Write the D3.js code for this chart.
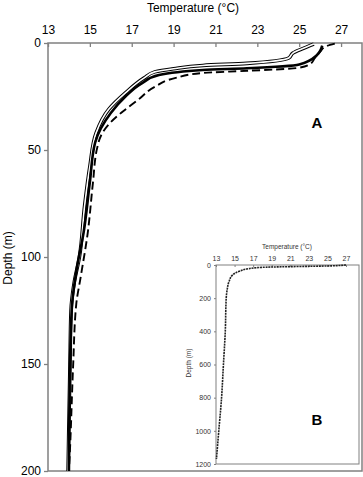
<!DOCTYPE html>
<html><head><meta charset="utf-8">
<script src="https://cdn.jsdelivr.net/npm/d3@7"></script>
<style>body{margin:0;background:#fff}svg{display:block;font-family:"Liberation Sans",Arial,sans-serif}</style>
</head><body>
<svg id="c" width="363" height="477"></svg>
<script>
// Data: [temperature °C, depth m]
const profileHollow = [[25.7,0.5],[25.2,2.5],[24.7,4.7],[24.5,7],[22.5,9.5],[20.4,10.5],[19.0,12],[18.1,13.5],[17.6,16.3],[16.7,23.3],[15.9,31],[15.3,42],[15.0,57.7],[14.75,76],[14.5,100],[14.25,112],[14.1,125],[14.05,150],[13.96,200]];
const profileThick = [[26.1,1.2],[25.85,5.6],[25.0,10],[22.5,11.8],[20.4,12.6],[18.3,15],[17.5,18.7],[16.7,25],[16.0,32.7],[15.25,46.6],[15.0,65],[14.7,88.6],[14.4,104],[14.15,122],[14.05,151],[14.0,200]];
const profileDashed = [[26.7,0.3],[26.3,1.5],[26.0,4],[25.75,7],[25.5,10],[24.9,11.7],[22.5,13],[20.4,14],[19.1,16.3],[18.1,20.5],[17.3,26.6],[16.5,32.6],[16.0,37],[15.6,42],[15.35,49],[15.15,65],[14.9,88.6],[14.55,110],[14.35,122],[14.2,151],[14.05,190],[14.0,200]];
const profileDeep = [[27,0],[26.5,2],[25.5,5],[23,8],[20,11],[18,14],[16.5,22],[15.5,38],[14.8,60],[14.4,100],[14.2,150],[14.1,200],[14.0,400],[13.8,600],[13.6,800],[13.3,1000],[13.05,1170]];
const tempTicks = [13,15,17,19,21,23,25,27];
const depthTicks = [0,50,100,150,200];
const deepTicks = [0,200,400,600,800,1000,1200];

const svg = d3.select("#c");
const axisCol = "#808080";

// ---- Main panel ----
const x = d3.scaleLinear().domain([13,28]).range([48,362]);
const y = d3.scaleLinear().domain([0,200]).range([43,471]);

const gx = svg.append("g").attr("transform","translate(0,43)")
  .call(d3.axisTop(x).tickValues(tempTicks).tickSize(-4).tickPadding(9).tickFormat(d3.format("d")));
const gy = svg.append("g").attr("transform","translate(48,0)")
  .call(d3.axisLeft(y).tickValues(depthTicks).tickSize(4).tickPadding(3));
[gx,gy].forEach(g=>{
  g.select(".domain").remove();
  g.selectAll(".tick line").attr("stroke",axisCol).attr("stroke-width",1.3);
  g.selectAll("text").attr("font-size",12).attr("fill","#000").attr("font-family","Liberation Sans, Arial, sans-serif");
});
svg.append("rect").attr("x",48).attr("y",43).attr("width",314).attr("height",428)
  .attr("fill","none").attr("stroke",axisCol).attr("stroke-width",1.5);

svg.append("text").attr("x",193).attr("y",12).attr("text-anchor","middle").attr("font-size",12).text("Temperature (°C)");
svg.append("text").attr("transform","translate(12,258) rotate(-90)").attr("text-anchor","middle").attr("font-size",12).text("Depth (m)");
svg.append("text").attr("x",317).attr("y",128).attr("text-anchor","middle").attr("font-size",15).attr("font-weight","bold").text("A");

const line = d3.line().x(d=>x(d[0])).y(d=>y(d[1])).curve(d3.curveMonotoneY);
svg.append("path").datum(profileHollow).attr("d",line).attr("fill","none").attr("stroke","#000").attr("stroke-width",3.6);
svg.append("path").datum(profileHollow).attr("d",line).attr("fill","none").attr("stroke","#fff").attr("stroke-width",1.6);
svg.append("path").datum(profileThick).attr("d",line).attr("fill","none").attr("stroke","#000").attr("stroke-width",2.6);
svg.append("path").datum(profileDashed).attr("d",line).attr("fill","none").attr("stroke","#000").attr("stroke-width",1.9).attr("stroke-dasharray","8,4");

// ---- Inset ----
const xi = d3.scaleLinear().domain([13,28.4]).range([216,359]);
const yi = d3.scaleLinear().domain([0,1200]).range([265,464]);
svg.append("rect").attr("x",216).attr("y",265).attr("width",143).attr("height",199)
  .attr("fill","#fff").attr("stroke",axisCol).attr("stroke-width",1);
const gxi = svg.append("g").attr("transform","translate(0,265)")
  .call(d3.axisTop(xi).tickValues(tempTicks).tickSize(-2).tickPadding(4).tickFormat(d3.format("d")));
const gyi = svg.append("g").attr("transform","translate(216,0)")
  .call(d3.axisLeft(yi).tickValues(deepTicks).tickSize(2).tickPadding(3).tickFormat(d3.format("d")));
[gxi,gyi].forEach(g=>{
  g.select(".domain").remove();
  g.selectAll(".tick line").attr("stroke",axisCol);
  g.selectAll("text").attr("font-size",7).attr("fill","#333").attr("font-family","Liberation Sans, Arial, sans-serif");
});
svg.append("text").attr("x",287).attr("y",249).attr("text-anchor","middle").attr("font-size",6.5).attr("fill","#333").text("Temperature (°C)");
svg.append("text").attr("transform","translate(191,363) rotate(-90)").attr("text-anchor","middle").attr("font-size",6.5).attr("fill","#333").text("Depth (m)");
svg.append("text").attr("x",317).attr("y",425).attr("text-anchor","middle").attr("font-size",15).attr("font-weight","bold").text("B");
const linei = d3.line().x(d=>xi(d[0])).y(d=>yi(d[1])).curve(d3.curveMonotoneY);
svg.append("path").datum(profileDeep).attr("d",linei).attr("fill","none").attr("stroke","#222").attr("stroke-width",1.6).attr("stroke-dasharray","2,0.8");
</script>
</body></html>
